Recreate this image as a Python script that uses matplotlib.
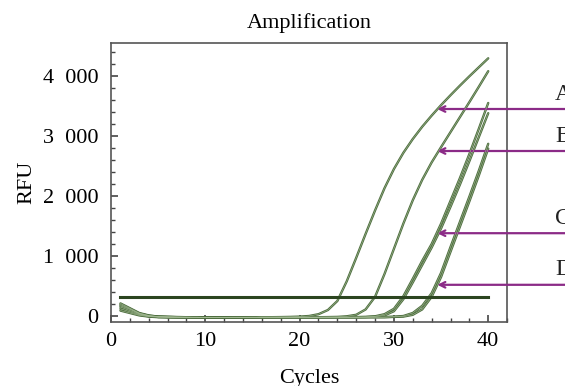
import numpy as np
import matplotlib
matplotlib.use('Agg')
import matplotlib.pyplot as plt
from matplotlib.ticker import MultipleLocator, FuncFormatter

plt.rcParams['font.family'] = ['Liberation Serif', 'DejaVu Serif']

# data (RFU per cycle, cycles 1..40)
cycles = np.arange(1, 41)

curve_a = [210, 130, 50, 10, -10, -15, -18, -20, -20, -22, -22, -22, -20, -20, -20, -20, -20, -18, -15, -10,
           0, 30, 100, 250, 580, 970, 1370, 1760, 2130, 2450, 2720, 2950, 3155, 3340, 3515, 3680, 3840, 3995, 4145, 4295]
curve_b = [170, 110, 40, 0, -15, -18, -20, -20, -22, -22, -25, -25, -22, -22, -20, -20, -20, -20, -20, -20,
           -20, -20, -18, -15, -5, 20, 110, 320, 700, 1120, 1540, 1930, 2270, 2560, 2815, 3065, 3315, 3565, 3820, 4080]
curve_c1 = [150, 90, 30, 0, -15, -18, -20, -20, -22, -22, -25, -25, -25, -22, -22, -20, -20, -20, -20, -20,
            -20, -20, -20, -20, -20, -18, -15, -5, 30, 120, 330, 620, 920, 1200, 1540, 1920, 2300, 2700, 3120, 3550]
curve_c2 = [120, 70, 20, -5, -15, -18, -20, -20, -22, -22, -25, -25, -25, -22, -22, -20, -20, -20, -20, -20,
            -20, -20, -20, -20, -20, -20, -18, -10, 10, 80, 280, 560, 850, 1140, 1460, 1820, 2190, 2580, 2980, 3380]
curve_d1 = [190, 120, 40, 5, -10, -15, -18, -20, -20, -22, -22, -25, -25, -22, -22, -20, -20, -20, -20, -20,
            -20, -20, -20, -20, -20, -20, -20, -20, -18, -12, 0, 50, 170, 380, 720, 1150, 1570, 1990, 2420, 2870]
curve_d2 = [90, 50, 10, -10, -20, -20, -20, -22, -22, -25, -25, -25, -25, -22, -22, -20, -20, -20, -20, -20,
            -20, -20, -20, -20, -20, -20, -20, -20, -20, -15, -10, 20, 110, 320, 650, 1070, 1490, 1910, 2340, 2790]
curves = [curve_a, curve_b, curve_c1, curve_c2, curve_d1, curve_d2]

threshold = 320
threshold_span = [1, 40]

labels = ['A', 'B', 'C', 'D']
arrow_cycle = 34.6
arrow_rfu = [3450, 2750, 1380, 520]

fig = plt.figure(figsize=(5.65, 3.86), dpi=100)
ax = fig.add_axes([0.1965, 0.1658, 0.701, 0.7228])

for y in curves:
    ax.plot(cycles, y, color='#4e6e3f', lw=1.7, solid_capstyle='round', zorder=3)
    ax.plot(cycles, y, color='#a3ba94', lw=0.4, zorder=4)

ax.plot(threshold_span, [threshold, threshold], color='#2c4520', lw=2.2, zorder=5)

for lab, yv in zip(labels, arrow_rfu):
    ax.annotate('', xy=(arrow_cycle, yv), xytext=(49, yv), xycoords='data',
                annotation_clip=False,
                arrowprops=dict(arrowstyle='->', color='#8b2b87', lw=1.6,
                                mutation_scale=10, shrinkA=0, shrinkB=0))
    ax.text(47.1, yv + 250, lab, fontsize=17, color='#222222',
            ha='left', va='center', clip_on=False)

ax.set_xlim(0, 42)
ax.set_ylim(-100, 4550)
ax.xaxis.set_major_locator(MultipleLocator(10))
ax.xaxis.set_minor_locator(MultipleLocator(2))
ax.yaxis.set_major_locator(MultipleLocator(1000))
ax.yaxis.set_minor_locator(MultipleLocator(200))
ax.yaxis.set_major_formatter(FuncFormatter(lambda v, p: f'{int(v):,}'.replace(',', '\u2002')))
ax.tick_params(which='both', direction='in', top=False, right=False, labelsize=16,
               color='#444444')
ax.tick_params(axis='x', pad=7)
ax.tick_params(axis='y', pad=9)
ax.tick_params(which='major', length=5, width=1.2)
ax.tick_params(which='minor', length=3, width=1.0)
for s in ax.spines.values():
    s.set_color('#555555')
    s.set_linewidth(1.2)

ax.set_title('Amplification', fontsize=16, pad=11)
ax.set_xlabel('Cycles', fontsize=16, labelpad=13)
ax.set_ylabel('RFU', fontsize=16, labelpad=5)

fig.savefig('out.png', dpi=100)
